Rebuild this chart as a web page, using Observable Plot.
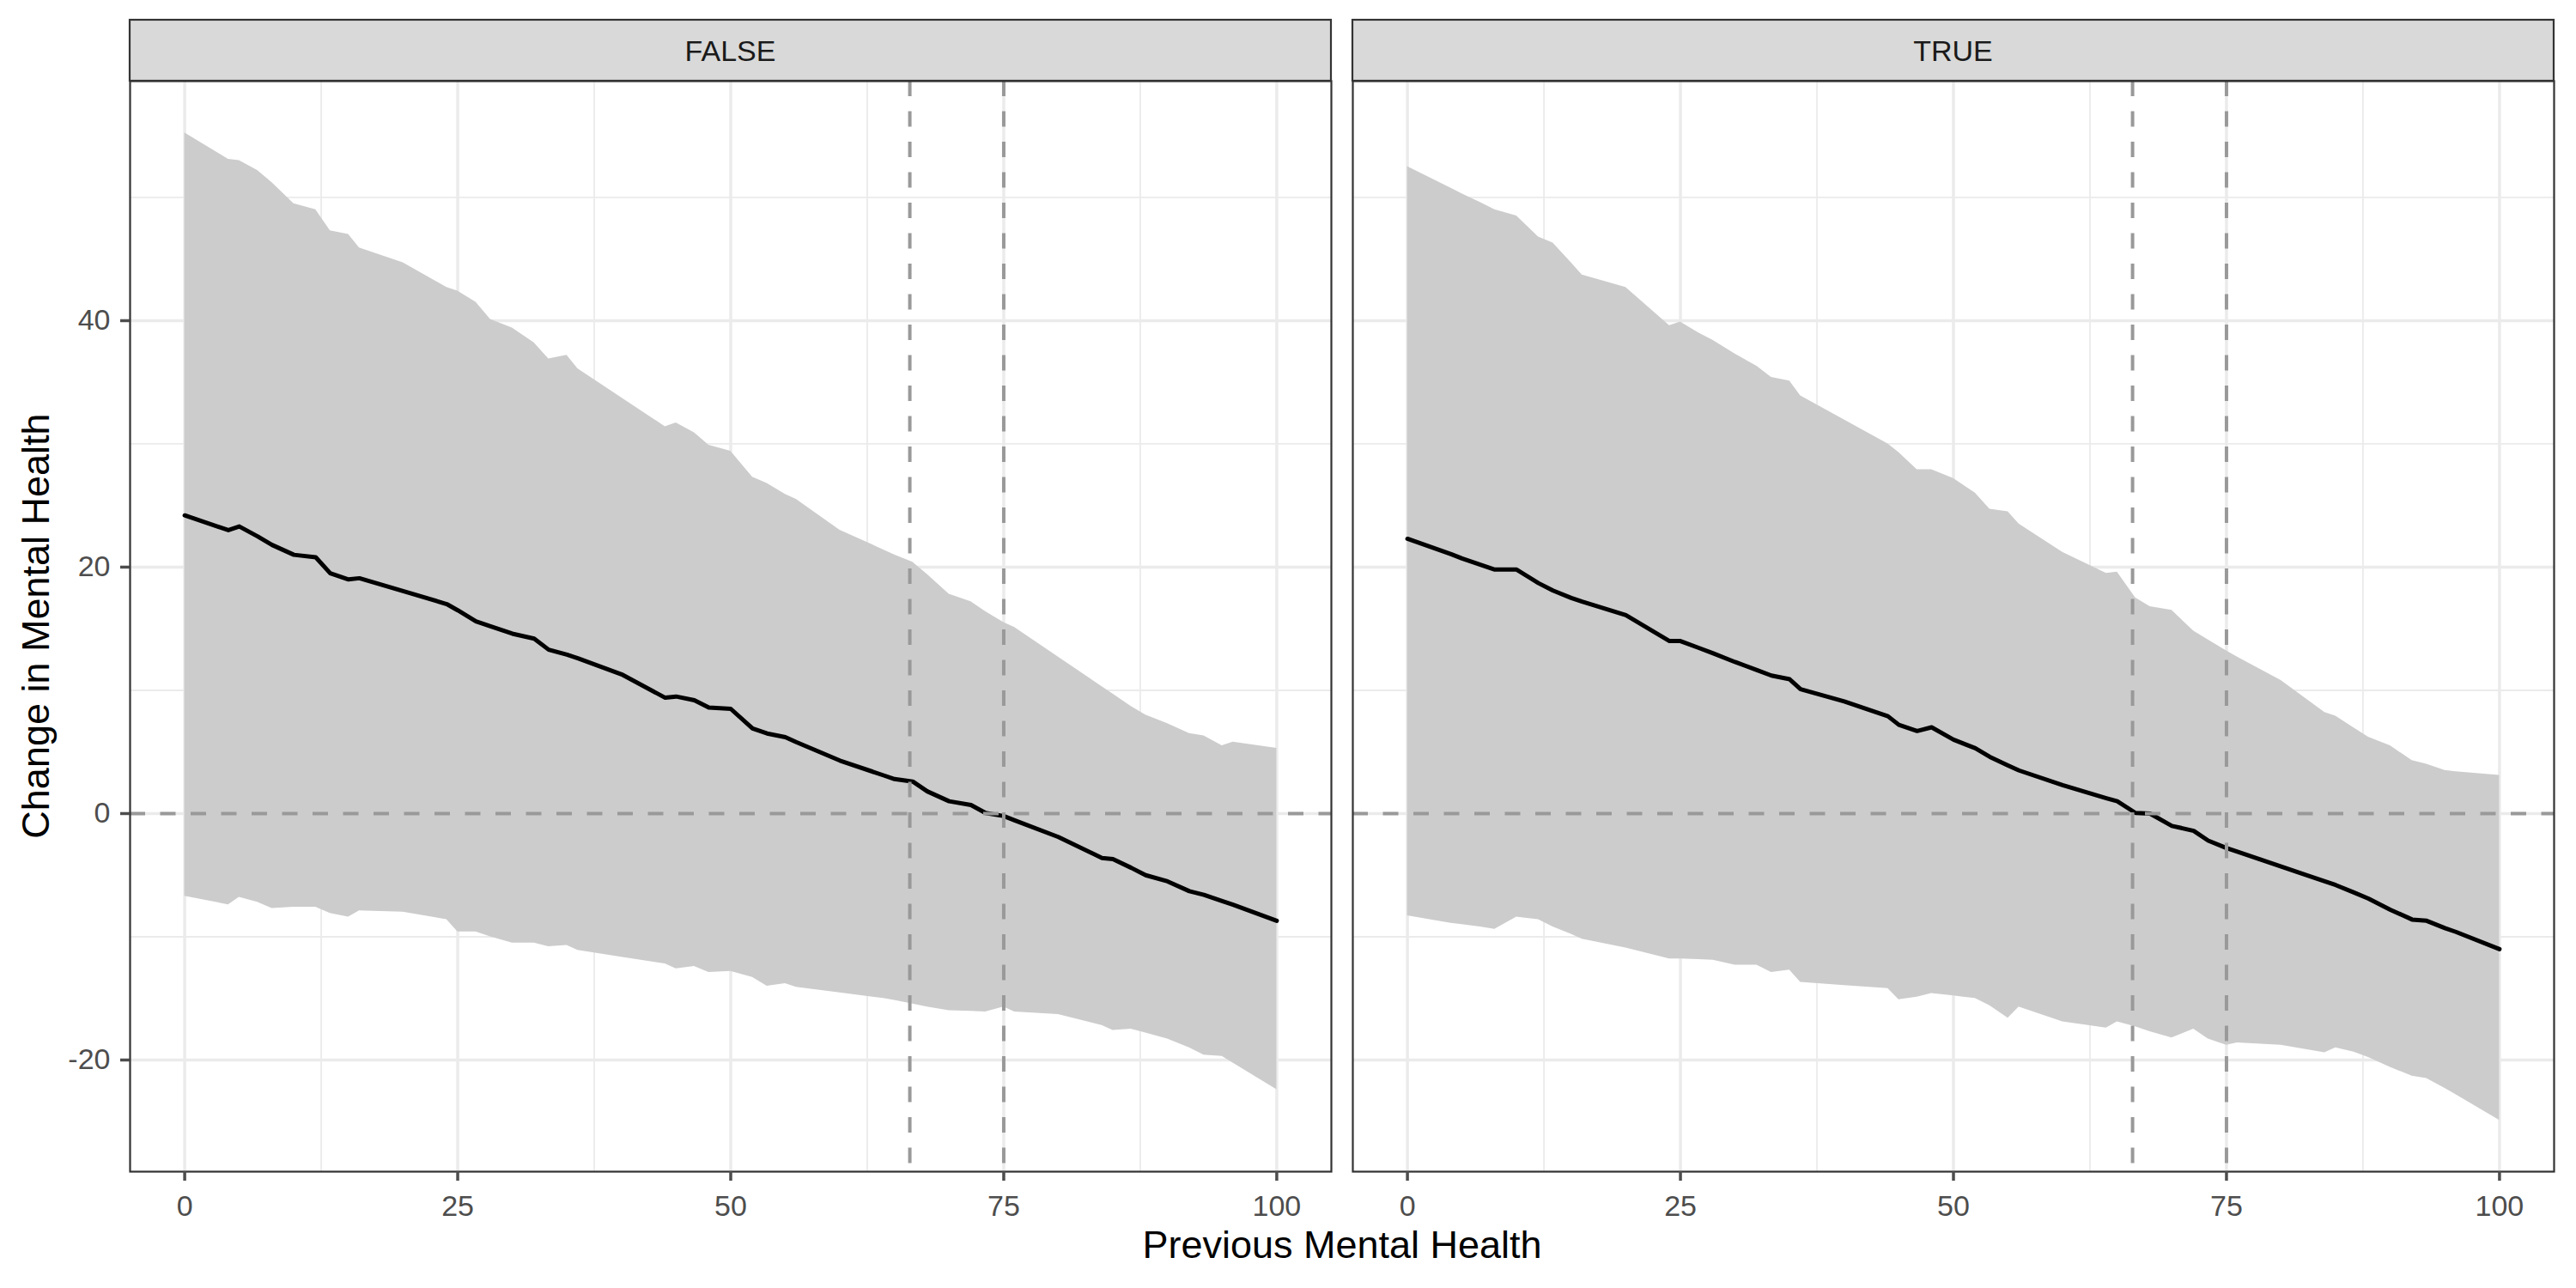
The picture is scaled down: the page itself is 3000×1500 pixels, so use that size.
<!DOCTYPE html>
<html>
<head>
<meta charset="utf-8">
<script src="https://cdn.jsdelivr.net/npm/d3@7"></script>
<script src="https://cdn.jsdelivr.net/npm/@observablehq/plot@0.6"></script>
<style>
html, body { margin: 0; padding: 0; background: #ffffff; }
#chart svg { display: block; }
#chart [aria-label="x-axis tick"], #chart [aria-label="y-axis tick"] { stroke: #333333; stroke-width: 3.5px; }
#chart [aria-label="x-axis tick label"], #chart [aria-label="y-axis tick label"] { fill: #4D4D4D; font-size: 34px; }
</style>
</head>
<body>
<div id="chart"></div>
<script>
// ---- data ----
const panels = ["FALSE", "TRUE"];
const xValues = [0, 4, 5, 6.67, 8, 10, 12, 13.33, 15, 16, 20, 24, 25, 26.67, 28, 30, 32, 33.33, 35, 36,
  40, 44, 45, 46.67, 48, 50, 52, 53.33, 55, 56, 60, 64, 65, 66.67, 68, 70, 72, 73.33, 75, 76,
  80, 84, 85, 86.67, 88, 90, 92, 93.33, 95, 96, 100];

const falseEst = [24.2, 23.0, 23.3, 22.5, 21.8, 21.0, 20.8, 19.5, 19.0, 19.1, 18.05, 17.0, 16.5, 15.6, 15.2, 14.6, 14.2, 13.3, 12.9, 12.6,
  11.3, 9.4, 9.5, 9.2, 8.6, 8.5, 6.9, 6.5, 6.2, 5.8, 4.3, 3.1, 2.8, 2.6, 1.8, 1.0, 0.7, 0.05, -0.2, -0.55,
  -1.9, -3.6, -3.7, -4.4, -5.0, -5.5, -6.3, -6.6, -7.1, -7.4, -8.7];
const falseHi = [55.25, 53.1, 53.0, 52.2, 51.2, 49.5, 49.0, 47.3, 47.0, 45.9, 44.7, 42.7, 42.4, 41.5, 40.1, 39.4, 38.2, 36.9, 37.2, 36.1,
  33.75, 31.4, 31.7, 30.9, 29.9, 29.4, 27.3, 26.8, 25.9, 25.5, 23.0, 21.4, 21.0, 20.4, 19.4, 17.8, 17.2, 16.4, 15.5, 15.1,
  12.7, 10.3, 9.7, 8.7, 8.0, 7.3, 6.5, 6.3, 5.5, 5.8, 5.3];
const falseLo = [-6.7, -7.4, -6.8, -7.2, -7.7, -7.6, -7.6, -8.1, -8.4, -7.9, -8.0, -8.6, -9.6, -9.6, -10.0, -10.5, -10.5, -10.8, -10.7, -11.1,
  -11.65, -12.2, -12.6, -12.4, -12.9, -12.8, -13.3, -14.0, -13.8, -14.1, -14.55, -15.0, -15.15, -15.45, -15.7, -16.0, -16.05, -16.1, -15.7, -16.1,
  -16.3, -17.2, -17.6, -17.5, -17.8, -18.3, -19.0, -19.6, -19.7, -20.25, -22.4];

const trueEst = [22.3, 21.05, 20.7, 20.2, 19.8, 19.8, 18.7, 18.1, 17.5, 17.2, 16.1, 14.0, 14.0, 13.45, 13.0, 12.3, 11.65, 11.2, 10.9, 10.1,
  9.1, 7.9, 7.2, 6.7, 7.0, 6.0, 5.3, 4.6, 3.9, 3.5, 2.3, 1.25, 1.0, 0.05, 0.0, -1.0, -1.4, -2.2, -2.8, -3.1,
  -4.3, -5.5, -5.8, -6.4, -6.9, -7.8, -8.6, -8.7, -9.3, -9.6, -11.0];
const trueHi = [52.5, 50.75, 50.3, 49.6, 49.0, 48.5, 46.8, 46.3, 44.7, 43.7, 42.7, 39.6, 39.9, 39.0, 38.4, 37.3, 36.3, 35.4, 35.1, 33.9,
  31.95, 30.0, 29.3, 27.9, 27.9, 27.2, 26.0, 24.7, 24.5, 23.5, 21.2, 19.5, 19.6, 17.5, 16.8, 16.5, 14.8, 14.1, 13.2, 12.7,
  10.8, 8.2, 7.9, 6.95, 6.2, 5.5, 4.3, 4.0, 3.5, 3.4, 3.1];
const trueLo = [-8.3, -8.9, -9.0, -9.2, -9.4, -8.4, -8.6, -9.2, -9.8, -10.2, -10.9, -11.8, -11.8, -11.85, -11.9, -12.3, -12.3, -12.9, -12.7, -13.7,
  -13.95, -14.2, -15.1, -14.9, -14.6, -14.8, -15.0, -15.6, -16.6, -15.7, -16.9, -17.4, -16.9, -17.3, -17.7, -18.2, -17.5, -18.3, -18.8, -18.6,
  -18.8, -19.4, -19.0, -19.35, -19.8, -20.6, -21.3, -21.5, -22.3, -22.8, -24.9];

const xTicks = [0, 25, 50, 75, 100];
const xMinor = [12.5, 37.5, 62.5, 87.5];
const yTicks = [-20, 0, 20, 40];
const yMinor = [-10, 10, 30, 50];
const zeroLine = [0];
const cutoffs = [66.4, 75];
const xTitle = "Previous Mental Health";
const yTitle = "Change in Mental Health";

// ---- table ----
const estSeries = [falseEst, trueEst];
const hiSeries = [falseHi, trueHi];
const loSeries = [falseLo, trueLo];
const rows = panels.flatMap((g, i) => xValues.map((x, j) => ({
  group: g, x, lo: loSeries[i][j], est: estSeries[i][j], hi: hiSeries[i][j]
})));

const W = 3000, H = 1500, mL = 151, mR = 25, mT = 94, mB = 136;
const font = "'Liberation Sans', Arial, Helvetica, sans-serif";
const dash = "18,17.5";

const chart = Plot.plot({
  width: W, height: H,
  marginLeft: mL, marginRight: mR, marginTop: mT, marginBottom: mB,
  style: { fontFamily: font, fontSize: "34px", background: "#ffffff", color: "#4D4D4D", overflow: "visible" },
  fx: { domain: panels, paddingInner: 0.01755, paddingOuter: 0, axis: null, label: null },
  x: { domain: [-5, 105], label: null },
  y: { domain: [-29.06, 59.44], label: null },
  marks: [
    Plot.ruleX(xMinor, { stroke: "#EBEBEB", strokeWidth: 1.8 }),
    Plot.ruleY(yMinor, { stroke: "#EBEBEB", strokeWidth: 1.8 }),
    Plot.ruleX(xTicks, { stroke: "#EBEBEB", strokeWidth: 3.5 }),
    Plot.ruleY(yTicks, { stroke: "#EBEBEB", strokeWidth: 3.5 }),
    Plot.areaY(rows, { fx: "group", x: "x", y1: "lo", y2: "hi", fill: "#CCCCCC" }),
    Plot.lineY(rows, { fx: "group", x: "x", y: "est", stroke: "#000000", strokeWidth: 5 }),
    Plot.ruleY(zeroLine, { stroke: "#999999", strokeWidth: 4, strokeDasharray: dash }),
    Plot.ruleX(cutoffs, { stroke: "#999999", strokeWidth: 4, strokeDasharray: dash }),
    Plot.frame({ stroke: "#333333", strokeWidth: 2.2 }),
    Plot.axisX({ ticks: xTicks, tickSize: 11, tickPadding: 16, tickFormat: d => String(d), fontSize: 34, label: null }),
    Plot.axisY({ ticks: yTicks, tickSize: 11, tickPadding: 12, tickFormat: d => String(d), fontSize: 34, label: null })
  ]
});

document.getElementById("chart").appendChild(chart);

// ---- strips and axis titles (positions derived from the plot's scales) ----
const svg = d3.select(chart);
const fxScale = chart.scale("fx");
const yScale = chart.scale("y");
const panelTop = yScale.apply(yScale.domain[1]);
const panelBottom = yScale.apply(yScale.domain[0]);
const stripH = 71;

const strips = svg.append("g").attr("aria-label", "strips");
panels.forEach(p => {
  const x0 = fxScale.apply(p);
  const bw = fxScale.bandwidth;
  strips.append("rect")
    .attr("x", x0).attr("y", panelTop - stripH)
    .attr("width", bw).attr("height", stripH)
    .attr("fill", "#D9D9D9").attr("stroke", "#333333").attr("stroke-width", 2.2);
  strips.append("text")
    .attr("x", x0 + bw / 2).attr("y", panelTop - stripH / 2)
    .attr("dy", "0.36em")
    .attr("text-anchor", "middle")
    .attr("font-family", font).attr("font-size", 34)
    .attr("fill", "#1A1A1A")
    .text(p);
});

svg.append("text")
  .attr("x", mL + (W - mL - mR) / 2).attr("y", 1465)
  .attr("text-anchor", "middle")
  .attr("font-family", font).attr("font-size", 45).attr("fill", "#000000")
  .text(xTitle);

svg.append("text")
  .attr("transform", `translate(57,${(panelTop + panelBottom) / 2}) rotate(-90)`)
  .attr("text-anchor", "middle")
  .attr("font-family", font).attr("font-size", 45).attr("fill", "#000000")
  .text(yTitle);
</script>
</body>
</html>
